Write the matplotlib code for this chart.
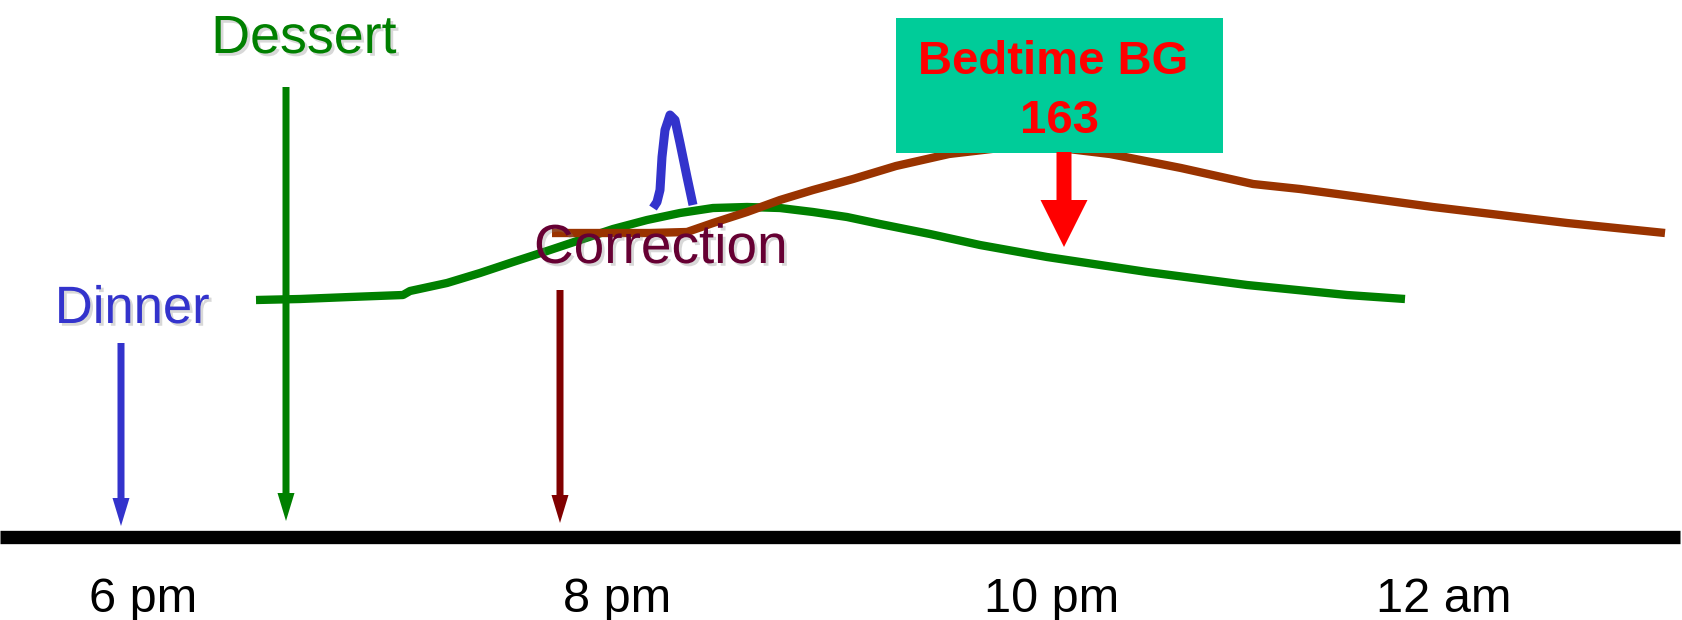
import matplotlib
matplotlib.use("Agg")
import matplotlib.pyplot as plt
import matplotlib.patches as mpatches
import matplotlib.patheffects as pe
from matplotlib import font_manager

# picture coordinates (pixels of the 1683x620 canvas, y downwards)
tick_x = [143, 617, 1052, 1444]
tick_labels = ["6 pm", "8 pm", "10 pm", "12 am"]

# dessert (green) glucose curve
green_x = [256, 300, 350, 403, 410, 447, 480, 513, 547, 580, 613, 647, 680, 713,
           747, 780, 813, 847, 880, 930, 980, 1047, 1147, 1247, 1347, 1405]
green_y = [300, 299, 297, 295, 291, 283, 273, 262, 251, 240, 229, 220, 213, 208,
           207, 208, 212, 217, 224, 234, 245, 257, 272, 285, 295, 299]

# correction (brown) curve
brown_x = [552, 600, 650, 687, 713, 747, 780, 813, 853, 896, 949, 1000, 1060,
           1110, 1181, 1253, 1300, 1367, 1433, 1500, 1567, 1665]
brown_y = [233, 233, 233, 232, 223, 212, 200, 190, 179, 166, 154, 148, 148,
           154, 168, 184, 189, 198, 207, 215, 223, 233]

# small blue spike
blue_x = [653, 657, 660, 662, 665, 670, 675, 680, 687, 693]
blue_y = [208, 202, 190, 157, 130, 115, 120, 143, 177, 205]

# event arrows: (label, x, top, tip, colour)
events = [
    ("Dinner", 121, 343, 526, "#3333CC"),
    ("Dessert", 286, 87, 521, "#008000"),
    ("Correction", 560, 290, 523, "#800000"),
]

names = {f.name for f in font_manager.fontManager.ttflist}
narrow = "Liberation Sans Narrow" in names
nfam = "Liberation Sans Narrow" if narrow else "Liberation Sans"
nscale = 1.0 if narrow else 0.88

fig = plt.figure(figsize=(16.83, 6.20), dpi=100)
ax = fig.add_axes([0, 0, 1, 1])
ax.set_xlim(0, 1683)
ax.set_ylim(620, 0)
ax.axis("off")

# baseline
ax.plot([0, 1680], [536.5, 536.5], color="black", lw=9.6, solid_capstyle="butt")
for x, lab in zip(tick_x, tick_labels):
    ax.text(x, 612, lab, ha="center", va="baseline", fontsize=35,
            family="Liberation Sans", color="black")

ax.plot(green_x, green_y, color="#008000", lw=6, solid_capstyle="butt",
        solid_joinstyle="round")
ax.plot(brown_x, brown_y, color="#993300", lw=6, solid_capstyle="butt",
        solid_joinstyle="round")
ax.plot(blue_x, blue_y, color="#3333CC", lw=6.5, solid_capstyle="butt",
        solid_joinstyle="round")

shadow = [pe.withSimplePatchShadow(offset=(2, -2), shadow_rgbFace="gray", alpha=0.3)]

for name, x, top, tip, col in events:
    ax.add_patch(mpatches.FancyArrow(x, top, 0, tip - top, width=7, head_width=17,
                                     head_length=28, length_includes_head=True,
                                     color=col, lw=0))

ax.text(132, 323, "Dinner", ha="center", va="baseline", color="#3333CC",
        fontsize=43 * nscale, family=nfam, path_effects=shadow)
ax.text(304, 53, "Dessert", ha="center", va="baseline", color="#008000",
        fontsize=44 * nscale, family=nfam, path_effects=shadow)
ax.text(661, 263, "Correction", ha="center", va="baseline", color="#660033",
        fontsize=45 * nscale, family=nfam, path_effects=shadow)

# bedtime box
ax.add_patch(mpatches.Rectangle((896, 18), 327, 135, color="#00CC99", lw=0, zorder=3))
ax.text(1053, 74, "Bedtime BG", ha="center", va="baseline", color="red",
        fontsize=34, fontweight="bold", family="Liberation Sans", zorder=4)
ax.text(1060, 133, "163", ha="center", va="baseline", color="red",
        fontsize=34, fontweight="bold", family="Liberation Sans", zorder=4)
ax.add_patch(mpatches.FancyArrow(1064, 152, 0, 95, width=15, head_width=47,
                                 head_length=47, length_includes_head=True,
                                 color="red", lw=0, zorder=4))

fig.savefig("out.png", dpi=100)
